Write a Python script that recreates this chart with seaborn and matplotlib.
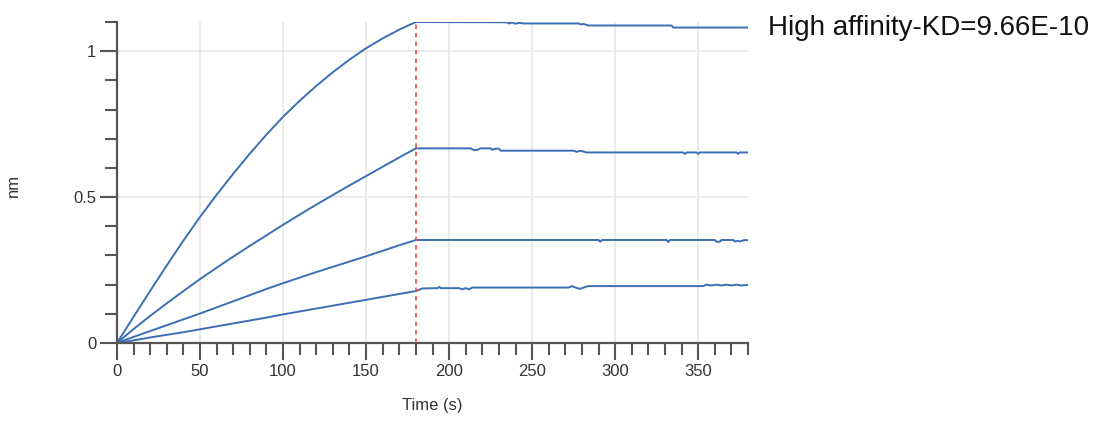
import matplotlib
matplotlib.use("Agg")
import matplotlib.pyplot as plt
from matplotlib.ticker import MultipleLocator
import numpy as np
import pandas as pd
import seaborn as sns

# ---------------- data ----------------
t_assoc = [0, 10, 20, 30, 40, 50, 60, 70, 80, 90, 100, 110, 120, 130, 140, 150, 160, 170, 180]

assoc_1 = [0, 0.090, 0.179, 0.266, 0.351, 0.432, 0.508, 0.580, 0.649, 0.714, 0.775,
           0.830, 0.881, 0.928, 0.971, 1.010, 1.044, 1.074, 1.100]
assoc_2 = [0, 0.048, 0.093, 0.136, 0.178, 0.219, 0.258, 0.296, 0.333, 0.369, 0.405,
           0.440, 0.474, 0.507, 0.540, 0.572, 0.604, 0.636, 0.667]
assoc_3 = [0, 0.021, 0.041, 0.061, 0.081, 0.101, 0.122, 0.143, 0.164, 0.185, 0.205,
           0.224, 0.243, 0.261, 0.279, 0.297, 0.316, 0.335, 0.353]
assoc_4 = [0, 0.009, 0.019, 0.028, 0.037, 0.047, 0.057, 0.067, 0.077, 0.087, 0.098,
           0.108, 0.118, 0.128, 0.138, 0.148, 0.158, 0.168, 0.178]

t_dis_1 = [180, 235, 236, 238, 240, 242, 245, 247, 278, 279, 281, 284, 334, 335, 380]
dis_1 = [1.100, 1.099, 1.095, 1.098, 1.094, 1.097, 1.095, 1.095, 1.095, 1.092, 1.093,
         1.088, 1.088, 1.081, 1.081]

t_dis_2 = [180, 213, 215, 217, 219, 225, 226, 228, 230, 231, 275, 277, 279, 281, 283,
           341, 342, 343, 349, 350, 351, 373, 374, 375, 380]
dis_2 = [0.667, 0.667, 0.661, 0.662, 0.667, 0.667, 0.662, 0.666, 0.666, 0.659, 0.659,
         0.655, 0.659, 0.656, 0.653, 0.653, 0.648, 0.653, 0.653, 0.648, 0.653, 0.653,
         0.648, 0.653, 0.653]

t_dis_3 = [180, 290, 291, 292, 331, 332, 333, 360, 361, 363, 364, 371, 372, 374, 375, 378, 380]
dis_3 = [0.353, 0.353, 0.347, 0.353, 0.353, 0.346, 0.353, 0.353, 0.347, 0.347, 0.353,
         0.353, 0.348, 0.350, 0.348, 0.353, 0.352]

t_dis_4 = [180, 184, 193, 194, 195, 206, 208, 210, 212, 214, 272, 274, 277, 279, 282, 284,
           353, 355, 358, 361, 364, 367, 370, 373, 376, 380]
dis_4 = [0.178, 0.187, 0.188, 0.192, 0.188, 0.188, 0.184, 0.188, 0.184, 0.190, 0.190,
         0.195, 0.188, 0.186, 0.192, 0.195, 0.195, 0.200, 0.197, 0.200, 0.197, 0.200,
         0.197, 0.200, 0.197, 0.199]

series_names = ["S1", "S2", "S3", "S4"]
title_text = "High affinity-KD=9.66E-10"
x_label = "Time (s)"
y_label = "nm"
switch_time = 180

# ---------------- build long table ----------------
frames = []
for name, a, td, d in zip(series_names,
                          [assoc_1, assoc_2, assoc_3, assoc_4],
                          [t_dis_1, t_dis_2, t_dis_3, t_dis_4],
                          [dis_1, dis_2, dis_3, dis_4]):
    t = list(t_assoc) + list(td[1:])
    v = list(a) + list(d[1:])
    frames.append(pd.DataFrame({"time": t, "nm": v, "series": name}))
df = pd.concat(frames, ignore_index=True)

# ---------------- style ----------------
sns.set_style("ticks")
plt.rcParams["font.family"] = ["Liberation Sans", "DejaVu Sans"]

W, H = 1107, 424
fig = plt.figure(figsize=(W / 100, H / 100), dpi=100)
ax = fig.add_axes([117 / W, 81 / H, 631 / W, 321 / H])

line_color = "#3b6fb3"
sns.lineplot(data=df, x="time", y="nm", hue="series",
             palette=[line_color] * 4, legend=False, linewidth=1.4,
             estimator=None, sort=False, ax=ax)

ax.axvline(switch_time, color="#e8585a", linestyle=(0, (2.5, 2.2)), linewidth=1.3, zorder=5)

ax.set_xlim(0, 380)
ax.set_ylim(0, 1.1)
ax.xaxis.set_major_locator(MultipleLocator(50))
ax.xaxis.set_minor_locator(MultipleLocator(10))
ax.yaxis.set_major_locator(MultipleLocator(0.5))
ax.yaxis.set_minor_locator(MultipleLocator(0.1))
ax.set_yticks([0, 0.5, 1])
ax.set_yticklabels(["0", "0.5", "1"])

ax.grid(True, which="major", color="#e6e6e6", linewidth=1.1)
ax.set_axisbelow(True)

spine_c = "#555555"
for s in ["top", "right"]:
    ax.spines[s].set_visible(False)
for s in ["left", "bottom"]:
    ax.spines[s].set_color(spine_c)
    ax.spines[s].set_linewidth(1.6)

ax.tick_params(which="major", direction="out", length=12, width=1.5, color=spine_c,
               labelsize=12, labelcolor="#333333", pad=3)
ax.tick_params(which="minor", direction="out", length=8.5, width=1.5, color=spine_c)

ax.set_xlabel(x_label, fontsize=12, color="#333333", labelpad=14)
ax.set_ylabel(y_label, fontsize=12, color="#333333")
ax.yaxis.set_label_coords(-0.152, 0.49)

fig.text(768 / W, 1 - 35 / H, title_text, fontsize=20, color="#111111",
         ha="left", va="baseline")

fig.savefig("out.png", dpi=100)
